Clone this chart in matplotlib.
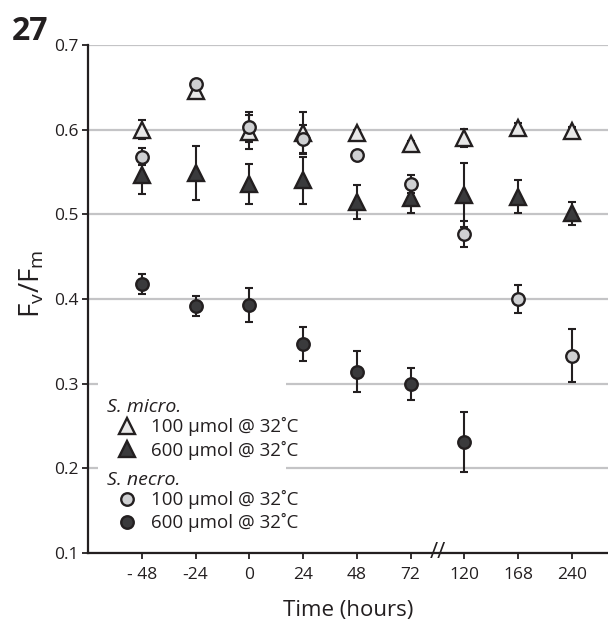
import numpy as np
import matplotlib
matplotlib.use("Agg")
import matplotlib.pyplot as plt
import matplotlib.patches as mpatches
from matplotlib.lines import Line2D

plt.rcParams["font.family"] = ["Open Sans", "DejaVu Sans"]
plt.rcParams["mathtext.default"] = "regular"

# ─── Data ────────────────────────────────────────────────────────────────────
hours = ["- 48", "-24", "0", "24", "48", "72", "120", "168", "240"]

micro_100 = [0.600, 0.646, 0.597, 0.596, 0.596, 0.583, 0.590, 0.602, 0.599]
micro_100_err = [0.011, 0.004, 0.020, 0.025, 0.004, 0.004, 0.011, 0.006, 0.004]

micro_600 = [0.547, 0.549, 0.536, 0.540, 0.515, 0.519, 0.523, 0.521, 0.501]
micro_600_err = [0.023, 0.032, 0.024, 0.028, 0.020, 0.017, 0.038, 0.020, 0.014]

necro_100 = [0.568, 0.654, 0.603, 0.589, 0.570, 0.536, 0.477, 0.400, 0.333]
necro_100_err = [0.010, 0.004, 0.018, 0.016, 0.004, 0.011, 0.015, 0.017, 0.031]

necro_600 = [0.418, 0.392, 0.393, 0.347, 0.314, 0.300, 0.231, np.nan, np.nan]
necro_600_err = [0.012, 0.012, 0.020, 0.020, 0.024, 0.019, 0.035, np.nan, np.nan]

# ─── Colors ──────────────────────────────────────────────────────────────────
EDGE = "#231f20"
LIGHT_TRI = "#e8e8e8"
LIGHT_CIRC = "#cfd0d2"
DARK = "#3a3a3c"
GRID = "#c4c4c6"

TRI_MS = 11
CIRC_MS = 9

fig = plt.figure(figsize=(6.08, 6.21), dpi=100)
ax = fig.add_axes([88 / 608, 1 - 553 / 621, 1 - 88 / 608, (553 - 45) / 621])

x = np.arange(len(hours))

series = [
    (micro_100, micro_100_err, "^", LIGHT_TRI, TRI_MS),
    (micro_600, micro_600_err, "^", DARK, TRI_MS),
    (necro_100, necro_100_err, "o", LIGHT_CIRC, CIRC_MS),
    (necro_600, necro_600_err, "o", DARK, CIRC_MS),
]

# error bars first, markers on top
for vals, errs, mk, fc, ms in series:
    ax.errorbar(x, vals, yerr=errs, fmt="none", ecolor=EDGE, elinewidth=1.5,
                capsize=2.8, capthick=1.5, zorder=2)
for i, (vals, errs, mk, fc, ms) in enumerate(series):
    ax.plot(x, vals, linestyle="none", marker=mk, markersize=ms,
            markerfacecolor=fc, markeredgecolor=EDGE, markeredgewidth=1.7,
            zorder=3 + i)

# axes styling
ax.set_ylim(0.1, 0.7)
ax.set_yticks(np.arange(0.1, 0.71, 0.1))
ax.set_yticklabels([f"{v:.1f}" for v in np.arange(0.1, 0.71, 0.1)])
ax.set_xlim(-1, 8.67)
ax.set_xticks(x)
ax.set_xticklabels(hours)
ax.tick_params(axis="both", labelsize=12.5, colors=EDGE, width=1.3, length=4)
ax.tick_params(axis="x", pad=6)
ax.tick_params(axis="y", pad=3)
ax.yaxis.grid(True, color=GRID, linewidth=1.6)
ax.set_axisbelow(True)
for side in ("top", "right"):
    ax.spines[side].set_visible(False)
for side in ("left", "bottom"):
    ax.spines[side].set_linewidth(1.6)
    ax.spines[side].set_color(EDGE)

ax.set_xlabel("Time (hours)", fontsize=16, color=EDGE, labelpad=12)
ax.set_ylabel(r"F$_{v}$/F$_{m}$", fontsize=20, color=EDGE)
ax.yaxis.set_label_coords(-0.08, 0.53)

# axis break mark between 72 and 120
ax.text(5.5, 0.1, "//", fontsize=16, color=EDGE, ha="center", va="center",
        clip_on=False, zorder=6)

# white panel behind the legend (hides the grid lines there)
ax.add_patch(mpatches.Rectangle((0.019, 0.045), 0.362, 0.305,
                                transform=ax.transAxes, facecolor="white",
                                edgecolor="none", zorder=1))

leg_kw = dict(loc="upper left", frameon=False, borderpad=0, borderaxespad=0,
              handlelength=2.2, handletextpad=0.15, labelspacing=0.22,
              fontsize=13.5, alignment="left",
              title_fontproperties={"style": "italic", "size": 14})

h_micro = [Line2D([], [], linestyle="none", marker="^", markersize=TRI_MS,
                  markerfacecolor=fc, markeredgecolor=EDGE, markeredgewidth=1.7)
           for fc in (LIGHT_TRI, DARK)]
h_necro = [Line2D([], [], linestyle="none", marker="o", markersize=CIRC_MS,
                  markerfacecolor=fc, markeredgecolor=EDGE, markeredgewidth=1.7)
           for fc in (LIGHT_CIRC, DARK)]
labels = ["100 µmol @ 32˚C", "600 µmol @ 32˚C"]

leg1 = ax.legend(h_micro, labels, title="S. micro.",
                 bbox_to_anchor=(0.036, 0.305), **leg_kw)
leg1.set_zorder(7)
ax.add_artist(leg1)
leg2 = ax.legend(h_necro, labels, title="S. necro.",
                 bbox_to_anchor=(0.036, 0.162), **leg_kw)
leg2.set_zorder(7)
for leg in (leg1, leg2):
    leg._legend_box.sep = 1
    for t in leg.get_texts():
        t.set_color(EDGE)
    leg.get_title().set_color(EDGE)

fig.text(12 / 608, 1 - 40 / 621, "27", fontsize=23, fontweight="bold",
         color=EDGE, ha="left", va="baseline")

fig.savefig("out.png", dpi=100, facecolor="white")
